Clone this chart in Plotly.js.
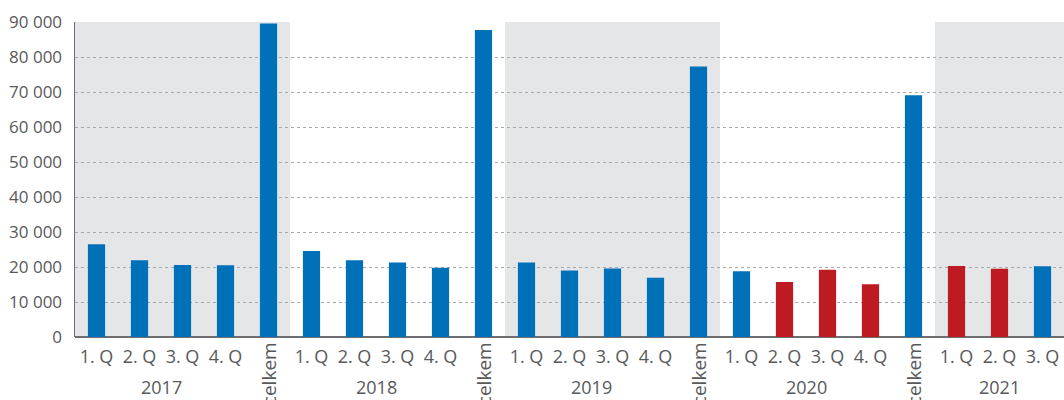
<!DOCTYPE html>
<html>
<head>
<meta charset="utf-8">
<script src="https://cdn.plot.ly/plotly-3.0.1.min.js"></script>
<style>
  html, body { margin: 0; padding: 0; background: #fff; }
  #graf { width: 1064px; height: 400px; }
</style>
</head>
<body>
<div id="graf"></div>
<script>
// popisky kategorií (pod osou x)
let labels = [
  "1. Q", "2. Q", "3. Q", "4. Q", "celkem",
  "1. Q", "2. Q", "3. Q", "4. Q", "celkem",
  "1. Q", "2. Q", "3. Q", "4. Q", "celkem",
  "1. Q", "2. Q", "3. Q", "4. Q", "celkem",
  "1. Q", "2. Q", "3. Q"
];
let years = ["2017", "2018", "2019", "2020", "2021"];

// hodnoty
let values = [
  26500, 21900, 20600, 20500, 89600,
  24600, 21900, 21300, 19800, 87700,
  21300, 19000, 19600, 16900, 77300,
  18800, 15700, 19200, 15100, 69100,
  20300, 19500, 20200
];

// které sloupce jsou zvýrazněné červeně
let highlighted = [
  0, 0, 0, 0, 0,
  0, 0, 0, 0, 0,
  0, 0, 0, 0, 0,
  0, 1, 1, 1, 0,
  1, 1, 0
];

const BLUE = "#0070b9";
const RED = "#be1a21";
const GREY_TEXT = "#58595b";

let xs = labels.map((_, i) => i);

let trace = {
  x: xs,
  y: values,
  type: "bar",
  width: 0.4,
  marker: {
    color: highlighted.map(h => h ? RED : BLUE),
    line: { width: 0 }
  },
  hoverinfo: "y"
};

// šedé pásy pro každý druhý rok
let shapes = [];
for (let g = 0; g < years.length; g += 2) {
  let start = g * 5 - 0.5;
  let end = Math.min(g * 5 + 4.5, labels.length - 0.5);
  shapes.push({
    type: "rect", xref: "x", yref: "paper",
    x0: start, x1: end, y0: 0, y1: 1,
    fillcolor: "#e5e6e8", line: { width: 0 }, layer: "below"
  });
}

// popisky let a svislé "celkem"
let annotations = [];
years.forEach((yr, g) => {
  let first = g * 5;
  let last = Math.min(first + 3, labels.length - 1);
  annotations.push({
    x: (first + last) / 2, xref: "x",
    y: -0.115, yref: "paper",
    yanchor: "top", xanchor: "center",
    text: yr, showarrow: false,
    font: { size: 18, color: GREY_TEXT }
  });
});
labels.forEach((lab, i) => {
  if (lab === "celkem") {
    annotations.push({
      x: i, xref: "x",
      y: -0.01, yref: "paper",
      yanchor: "top", xanchor: "center",
      text: lab, textangle: -90, showarrow: false,
      font: { size: 19, color: GREY_TEXT }
    });
  }
});

let layout = {
  width: 1064,
  height: 400,
  margin: { l: 75, r: 0, t: 22, b: 63, pad: 0 },
  paper_bgcolor: "#ffffff",
  plot_bgcolor: "#ffffff",
  separators: ", ",
  showlegend: false,
  font: { family: "Open Sans, sans-serif", size: 17, color: GREY_TEXT },
  xaxis: {
    range: [-0.5, labels.length - 0.5],
    tickmode: "array",
    tickvals: xs,
    ticktext: labels.map(l => l === "celkem" ? "" : l),
    tickangle: 0,
    ticks: "",
    ticklabelstandoff: 7,
    showgrid: false,
    zeroline: false,
    showline: false,
    tickfont: { size: 18, color: GREY_TEXT },
    fixedrange: true
  },
  yaxis: {
    range: [0, 90000],
    tickvals: [0, 10000, 20000, 30000, 40000, 50000, 60000, 70000, 80000, 90000],
    tickformat: ",d",
    ticks: "",
    ticklabelstandoff: 8,
    showline: true,
    linecolor: "#6d6e71",
    linewidth: 1.5,
    showgrid: true,
    gridcolor: "#a7a9ac",
    griddash: "dot",
    gridwidth: 1,
    zeroline: true,
    zerolinecolor: "#6d6e71",
    zerolinewidth: 1.5,
    tickfont: { size: 17, color: GREY_TEXT },
    fixedrange: true
  },
  shapes: shapes,
  annotations: annotations,
  bargap: 0.6
};

Plotly.newPlot("graf", [trace], layout, { displayModeBar: false, staticPlot: true });
</script>
</body>
</html>
